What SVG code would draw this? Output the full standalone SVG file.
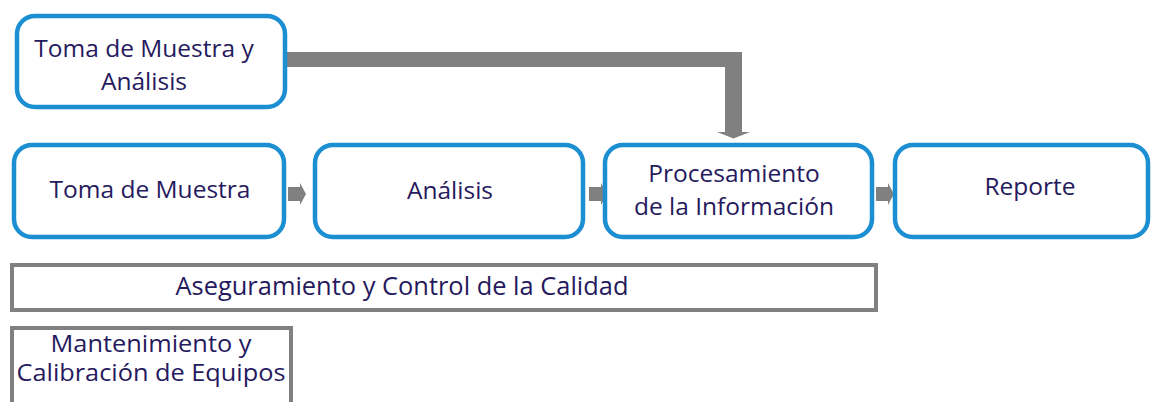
<svg xmlns="http://www.w3.org/2000/svg" width="1153" height="402" viewBox="0 0 1153 402">
<style>
.node rect.b{fill:#fff;stroke:#1b8fd2;stroke-width:4.5}
.node rect.g{fill:#fff;stroke:#808080;stroke-width:4}
text{font-family:"Open Sans","Noto Sans",sans-serif;fill:#261a5e;text-anchor:middle}
.t{font-size:24.5px}
.c{font-size:25px}
.m{font-size:23px}
.conn path{fill:#808080}
</style>
<rect width="1153" height="402" fill="#fff"/>
<g class="conn">
<path d="M287 52 H742 V132 H750 L733.5 138.5 L717 132 H725 V67 H287 Z"/>
<path d="M288 187 H300 V183 L306 194 L300 205 V201 H288 Z"/>
<path d="M589 187 H601 V183 L607 194 L601 205 V201 H589 Z"/>
<path d="M876 187 H888 V183 L894 194 L888 205 V201 H876 Z"/>
</g>
<g id="n-toma-analisis" class="node">
<rect class="b" x="17" y="16" width="268" height="91" rx="18"/>
<text class="t" x="144" y="57">Toma de Muestra y</text>
<text class="t" x="144" y="90">Análisis</text>
</g>
<g id="n-toma" class="node">
<rect class="b" x="14" y="145" width="270" height="92" rx="18"/>
<text class="t" x="150" y="198">Toma de Muestra</text>
</g>
<g id="n-analisis" class="node">
<rect class="b" x="315" y="145" width="268" height="92" rx="18"/>
<text class="t" x="450" y="199">Análisis</text>
</g>
<g id="n-procesamiento" class="node">
<rect class="b" x="605" y="145" width="267" height="92" rx="18"/>
<text class="t" x="734" y="182">Procesamiento</text>
<text class="t" x="734" y="215">de la Información</text>
</g>
<g id="n-reporte" class="node">
<rect class="b" x="895" y="145" width="253" height="92" rx="18"/>
<text class="t" x="1030" y="195">Reporte</text>
</g>
<g id="n-aseguramiento" class="node">
<rect class="g" x="12" y="265" width="864" height="45"/>
<text class="c" x="402" y="295" textLength="453" lengthAdjust="spacingAndGlyphs">Aseguramiento y Control de la Calidad</text>
</g>
<g id="n-mantenimiento" class="node">
<rect class="g" x="12" y="328" width="279" height="90"/>
<text class="m" x="151" y="352" textLength="201" lengthAdjust="spacingAndGlyphs">Mantenimiento y</text>
<text class="m" x="151" y="381" textLength="269" lengthAdjust="spacingAndGlyphs">Calibración de Equipos</text>
</g>
</svg>
